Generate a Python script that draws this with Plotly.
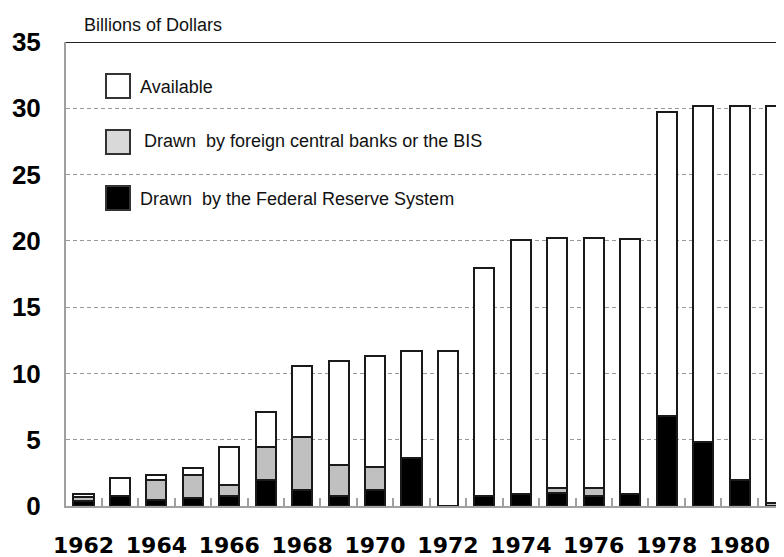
import plotly.graph_objects as go

years = list(range(1962, 1982))
fed_drawn = [0.4, 0.75, 0.43, 0.6, 0.75, 1.94, 1.18, 0.75, 1.18, 3.6,
             0, 0.75, 0.88, 1.0, 0.75, 0.88, 6.76, 4.83, 1.94, 0]
foreign_drawn = [0.3, 0, 1.5, 1.77, 0.83, 2.51, 4.02, 2.32, 1.76, 0,
                 0, 0, 0, 0.33, 0.58, 0, 0, 0, 0, 0.25]
available = [0.2, 1.35, 0.44, 0.47, 2.87, 2.62, 5.34, 7.87, 8.35, 8.09,
             11.69, 17.23, 19.17, 18.87, 18.87, 19.27, 22.94, 25.32, 28.21, 29.9]

legend_labels = ["Available",
                 "Drawn\u00a0 by foreign central banks or the BIS",
                 "Drawn\u00a0 by the Federal Reserve System"]
legend_colors = ["#ffffff", "#d9d9d9", "#000000"]

# page body has an 8px margin, so figure coords are shifted by OFF
OFF = 8
W, H = 784, 557
L, R, T, B = 58, 0, 34, 59
PW, PH = W - L - R, H - T - B


def px(x):
    return (x - OFF - L) / PW


def py(y):
    return (H - B - (y - OFF)) / PH


OUTLINE = dict(color="#1a1a1a", width=2)
fig = go.Figure()
for name, vals, col in [("Drawn by the Federal Reserve System", fed_drawn, "#000000"),
                        ("Drawn by foreign central banks or the BIS", foreign_drawn, "#c0c0c0"),
                        ("Available", available, "#ffffff")]:
    fig.add_trace(go.Bar(x=years, y=vals, name=name, width=0.55,
                         marker=dict(color=col, line=OUTLINE), showlegend=False))

# manual legend
shapes = []
annotations = []
rows = [(73, 87), (129, 141), (185, 199)]
text_x = [138, 142, 138]
for (top, ty), lab, col, tx in zip(rows, legend_labels, legend_colors, text_x):
    shapes.append(dict(type="rect", xref="paper", yref="paper",
                       x0=px(106), x1=px(130), y0=py(top + 25), y1=py(top + 1),
                       fillcolor=col, line=dict(color="#333333", width=2)))
    annotations.append(dict(text=lab, xref="paper", yref="paper", x=px(tx), y=py(ty),
                            xanchor="left", yanchor="middle", showarrow=False,
                            font=dict(family="Arial, Liberation Sans", size=18, color="#111111")))

# top frame line
shapes.append(dict(type="line", xref="paper", yref="y", x0=0, x1=1, y0=35, y1=35,
                   line=dict(color="#222222", width=2)))

annotations.append(dict(text="Billions of Dollars", xref="paper", yref="paper",
                        x=px(82), y=py(25), xanchor="left", yanchor="middle", showarrow=False,
                        font=dict(family="Arial, Liberation Sans", size=18, color="#111111")))

fig.update_layout(
    width=W, height=H,
    barmode="stack",
    paper_bgcolor="white", plot_bgcolor="white",
    margin=dict(l=L, r=R, t=T, b=B, pad=0, autoexpand=False),
    shapes=shapes, annotations=annotations,
    xaxis=dict(range=[1961.52, 1981.44], tickmode="linear", tick0=1962, dtick=2,
               tickformat="d", ticks="", showgrid=False, zeroline=False, automargin=False,
               showline=True, linecolor="#a0a0a0", linewidth=2,
               ticklabelstandoff=19,
               tickfont=dict(family="DejaVu Sans", size=22, color="#000000", weight="bold"),
               minor=dict(tickmode="linear", tick0=1961.5, dtick=1, ticks="inside",
                          ticklen=8, tickcolor="#a0a0a0", tickwidth=2, showgrid=False)),
    yaxis=dict(range=[0, 35], tickvals=[0, 5, 10, 15, 20, 25, 30, 35],
               showgrid=True, gridcolor="#999999", griddash="4px,3px", gridwidth=1,
               zeroline=False, showline=True, linecolor="#a0a0a0", linewidth=2,
               ticks="", ticklabelstandoff=18, automargin=False,
               tickfont=dict(family="Arial, Liberation Sans", size=26, color="#000000", weight="bold")),
)

fig.write_html("out.html")
